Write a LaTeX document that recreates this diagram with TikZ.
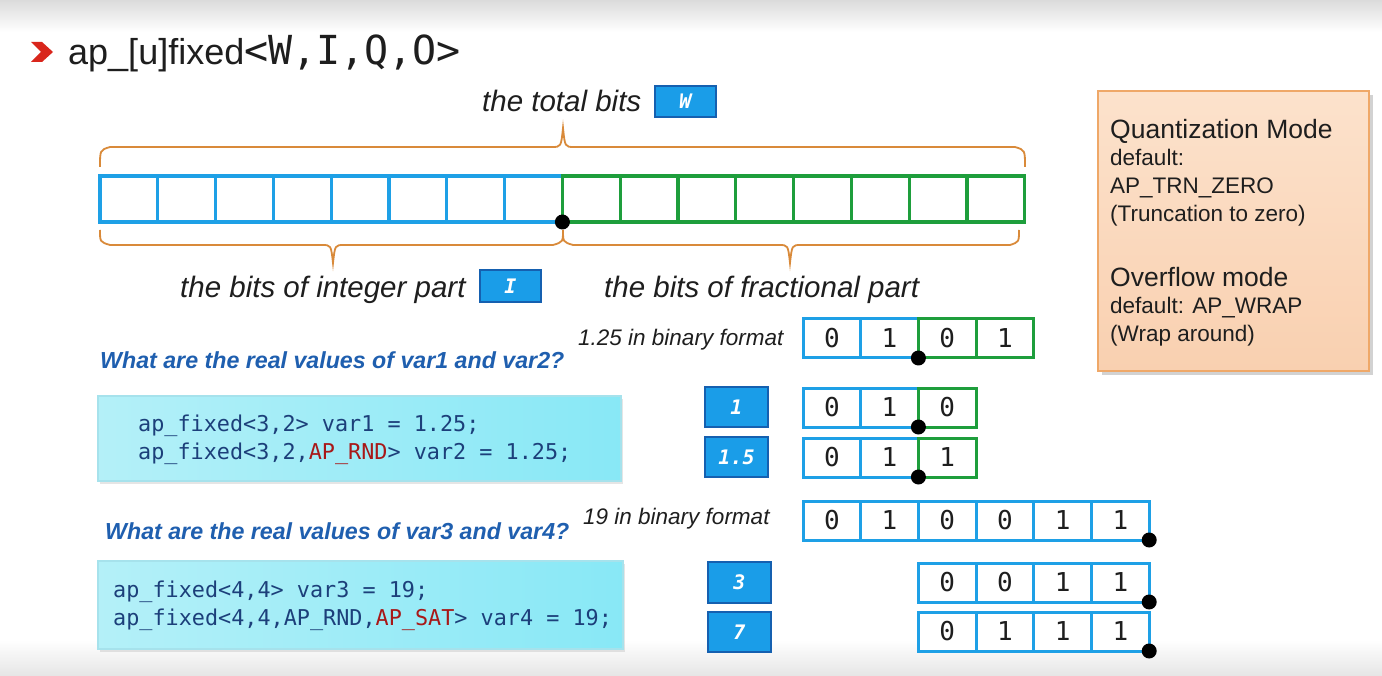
\documentclass[tikz,border=0pt]{standalone}
\usepackage{fontspec}
\setmainfont{Liberation Sans}
\newfontfamily\monof{DejaVu Sans Mono}
\usetikzlibrary{shadows}
\definecolor{cellblue}{HTML}{1EA0E6}
\definecolor{cellgreen}{HTML}{1E9E3C}
\definecolor{braceor}{HTML}{D98A3A}
\definecolor{qblue}{HTML}{1F5FAF}
\definecolor{lblfill}{HTML}{1A9DE8}
\definecolor{lbledge}{HTML}{1560B0}
\definecolor{codeblue}{HTML}{1C3F7A}
\definecolor{codered}{HTML}{A81818}
\definecolor{peachtop}{HTML}{FCE2CC}
\definecolor{peachbot}{HTML}{F9D0B0}
\definecolor{peachedge}{HTML}{EFA868}
\definecolor{chevron}{HTML}{D9261C}
\definecolor{codeL}{HTML}{B4F0F8}
\definecolor{codeR}{HTML}{88E8F6}
\definecolor{codeedge}{HTML}{A6E2EC}
\definecolor{txt}{HTML}{1E1E1E}
\begin{document}
\begin{tikzpicture}[x=1pt,y=-1pt,
  bigb/.style={draw=cellblue, line width=3.2pt, minimum width=57.8pt, minimum height=46pt, inner sep=0pt, outer sep=0pt, anchor=north west, fill=white},
  bigg/.style={bigb, draw=cellgreen},
  smb/.style={draw=cellblue, line width=3pt, minimum width=57.7pt, minimum height=39pt, inner sep=0pt, outer sep=0pt, anchor=north west, fill=white, font=\monof\fontsize{26}{26}\selectfont, text=txt},
  smg/.style={smb, draw=cellgreen},
  dotn/.style={circle, fill=black, inner sep=0pt, minimum size=15pt},
  lbl/.style={draw=lbledge, fill=lblfill, line width=1.6pt, text=white, font=\monof\bfseries\itshape\fontsize{20}{20}\selectfont, inner sep=0pt},
  itl/.style={anchor=base west, inner sep=0pt, text=txt, font=\itshape\fontsize{29.5}{32}\selectfont},
  itm/.style={anchor=base west, inner sep=0pt, text=txt, font=\itshape\fontsize{22.5}{25}\selectfont},
  qq/.style={anchor=base west, inner sep=0pt, text=qblue, font=\bfseries\itshape\fontsize{23.2}{25}\selectfont},
  code/.style={anchor=base west, inner sep=0pt, text=codeblue, font=\monof\fontsize{21.8}{24}\selectfont},
  bh/.style={anchor=base west, inner sep=0pt, text=txt, font=\fontsize{26.5}{30}\selectfont},
  bs/.style={anchor=base west, inner sep=0pt, text=txt, font=\fontsize{22.5}{26}\selectfont},
  brc/.style={draw=braceor, line width=1.8pt},
  codebox/.style={anchor=north west, left color=codeL, right color=codeR, draw=codeedge, line width=2pt, inner sep=0pt, drop shadow={shadow xshift=2pt, shadow yshift=-3pt, opacity=0.2}}
]
% background
\useasboundingbox (0,0) rectangle (1382,676);
\fill[white] (0,0) rectangle (1382,676);
\shade[top color=black!14, bottom color=white] (0,0) rectangle (1382,32);
\shade[top color=white, bottom color=black!10] (0,640) rectangle (1382,676);

% title
\fill[chevron] (31,42) -- (42,42) -- (53,52) -- (42,62) -- (31,62) -- (41,52) -- cycle;
\node[anchor=base west, inner sep=0pt, text=txt, font=\fontsize{36}{40}\selectfont] (title) at (68,65) {ap\_[u]fixed{\monof\fontsize{40}{40}\selectfont<W,I,Q,O>}};

% total bits label
\node[itl] (total) at (482,112) {the total bits};
\node[lbl, minimum width=61pt, minimum height=31pt] (W) at (685.5,101.5) {W};

% top brace
\draw[brc] (100,167) .. controls (100,150) .. (110,147) -- (552,147) .. controls (561,147) .. (563,128) .. controls (565,147) .. (574,147) -- (1015,147) .. controls (1025,150) .. (1025,167);

% big bit bar
\foreach \i in {0,...,7} \node[bigb] (tb\i) at ({100+\i*57.8},176) {};
\foreach \i in {8,...,15} \node[bigg] (tb\i) at ({100+\i*57.8},176) {};
\node[dotn] (d0) at (tb8.south west) {};

% lower braces
\draw[brc] (100,230) .. controls (100,242) .. (110,245) -- (322,245) .. controls (331,245) .. (333,263) .. controls (335,245) .. (344,245) -- (553,245) .. controls (563,242) .. (563,230);
\draw[brc] (563,230) .. controls (563,242) .. (573,245) -- (779,245) .. controls (788,245) .. (790,263) .. controls (792,245) .. (801,245) -- (1010,245) .. controls (1019,242) .. (1019,230);

\node[itl] (intl) at (180,298) {the bits of integer part};
\node[lbl, minimum width=61pt, minimum height=32pt] (I) at (510.5,286) {I};
\node[itl] (fracl) at (604,298) {the bits of fractional part};

% right info box
\node[anchor=north west, minimum width=271pt, minimum height=280pt, top color=peachtop, bottom color=peachbot, draw=peachedge, line width=1.6pt, inner sep=0pt, drop shadow={shadow xshift=4pt, shadow yshift=-4pt, opacity=0.35}] (qbox) at (1097,90) {};
\node[bh] (q1) at (1110,139) {Quantization Mode};
\node[bs] (q2) at (1110,166) {default:};
\node[bs] (q3) at (1110,194) {AP\_TRN\_ZERO};
\node[bs] (q4) at (1110,222) {(Truncation to zero)};
\node[bh] (o1) at (1110,287) {Overflow mode};
\node[bs] (o2) at (1110,314) {default: AP\_WRAP};
\node[bs] (o3) at (1110,342) {(Wrap around)};

% question 1
\node[qq] (qa) at (100,369) {What are the real values of var1 and var2?};
\node[codebox, minimum width=523pt, minimum height=85pt] (code1) at (97,395) {};
\node[code] (c1a) at (138,431) {ap\_fixed<3,2> var1 = 1.25;};
\node[code] (c1b) at (138,459) {ap\_fixed<3,2,{\color{codered}AP\_RND}> var2 = 1.25;};

% question 2
\node[qq] (qb) at (105,539) {What are the real values of var3 and var4?};
\node[codebox, minimum width=525pt, minimum height=88pt] (code2) at (97,560) {};
\node[code] (c2a) at (113,597) {ap\_fixed<4,4> var3 = 19;};
\node[code] (c2b) at (113,625) {ap\_fixed<4,4,AP\_RND,{\color{codered}AP\_SAT}> var4 = 19;};

% 1.25 binary
\node[itm] (b125) at (578,345) {1.25 in binary format};
\node[smb] (a0) at (803,319) {0};
\node[smb] (a1) at (860.7,319) {1};
\node[smg] (a2) at (918.4,319) {0};
\node[smg] (a3) at (976.1,319) {1};
\node[dotn] (da) at (a2.south west) {};

\node[lbl, minimum width=63pt, minimum height=40pt] (v1) at (736.5,407) {1};
\node[smb] (b0) at (803,388) {0};
\node[smb] (b1) at (860.7,388) {1};
\node[smg] (b2) at (918.4,388) {0};
\node[dotn] (db) at (b2.south west) {};

\node[lbl, minimum width=63pt, minimum height=40pt] (v2) at (736.5,457) {1.5};
\node[smb] (c0) at (803,438) {0};
\node[smb] (c1) at (860.7,438) {1};
\node[smg] (c2) at (918.4,438) {1};
\node[dotn] (dc) at (c2.south west) {};

% 19 binary
\node[itm] (b19) at (583,524) {19 in binary format};
\foreach \d [count=\i from 0] in {0,1,0,0,1,1} \node[smb] (e\i) at ({803+\i*57.7},501) {\d};
\node[dotn] (de) at (e5.south east) {};

\node[lbl, minimum width=63pt, minimum height=41pt] (v3) at (739.5,582.5) {3};
\foreach \d [count=\i from 0] in {0,0,1,1} \node[smb] (f\i) at ({918.4+\i*57.7},563) {\d};
\node[dotn] (df) at (f3.south east) {};

\node[lbl, minimum width=63pt, minimum height=40pt] (v4) at (739.5,632) {7};
\foreach \d [count=\i from 0] in {0,1,1,1} \node[smb] (g\i) at ({918.4+\i*57.7},612) {\d};
\node[dotn] (dg) at (g3.south east) {};
\end{tikzpicture}
\end{document}
